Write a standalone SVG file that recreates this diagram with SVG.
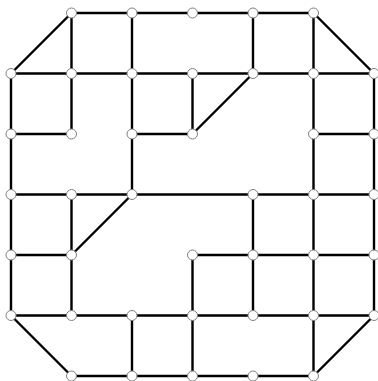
<svg xmlns="http://www.w3.org/2000/svg" width="378" height="381" viewBox="0 0 378 381">
<style>
.e{stroke:#000;stroke-width:2.4;fill:none;stroke-linecap:round}
.n{fill:#fff;stroke:#808080;stroke-width:1}
</style>
<rect width="378" height="381" fill="#fff"/>
<g id="connectors" class="e">
<path d="M71.5 13H313.5M11 73.5H374M11 134H71.5M132 134H192.5M313.5 134H374M11 194.5H374M11 255H71.5M192.5 255H374M11 315.5H374M71.5 376H313.5"/>
<path d="M71.5 13L11 73.5M313.5 13L374 73.5M253 73.5L192.5 134M132 194.5L71.5 255M11 315.5L71.5 376M374 315.5L313.5 376"/>
<path d="M71.5 13V73.5M132 13V73.5M253 13V73.5M313.5 13V73.5"/>
<path d="M11 73.5V315.5M71.5 73.5V134M132 73.5V194.5M192.5 73.5V134M313.5 73.5V194.5M374 73.5V315.5"/>
<path d="M71.5 194.5V315.5M253 194.5V315.5M313.5 194.5V376M192.5 255V376M132 315.5V376"/>
</g>
<g id="n0_1"><circle class="n" cx="71.5" cy="13" r="5"/></g>
<g id="n0_2"><circle class="n" cx="132" cy="13" r="5"/></g>
<g id="n0_3"><circle class="n" cx="192.5" cy="13" r="5"/></g>
<g id="n0_4"><circle class="n" cx="253" cy="13" r="5"/></g>
<g id="n0_5"><circle class="n" cx="313.5" cy="13" r="5"/></g>
<g id="n1_0"><circle class="n" cx="11" cy="73.5" r="5"/></g>
<g id="n1_1"><circle class="n" cx="71.5" cy="73.5" r="5"/></g>
<g id="n1_2"><circle class="n" cx="132" cy="73.5" r="5"/></g>
<g id="n1_3"><circle class="n" cx="192.5" cy="73.5" r="5"/></g>
<g id="n1_4"><circle class="n" cx="253" cy="73.5" r="5"/></g>
<g id="n1_5"><circle class="n" cx="313.5" cy="73.5" r="5"/></g>
<g id="n1_6"><circle class="n" cx="374" cy="73.5" r="5"/></g>
<g id="n2_0"><circle class="n" cx="11" cy="134" r="5"/></g>
<g id="n2_1"><circle class="n" cx="71.5" cy="134" r="5"/></g>
<g id="n2_2"><circle class="n" cx="132" cy="134" r="5"/></g>
<g id="n2_3"><circle class="n" cx="192.5" cy="134" r="5"/></g>
<g id="n2_5"><circle class="n" cx="313.5" cy="134" r="5"/></g>
<g id="n2_6"><circle class="n" cx="374" cy="134" r="5"/></g>
<g id="n3_0"><circle class="n" cx="11" cy="194.5" r="5"/></g>
<g id="n3_1"><circle class="n" cx="71.5" cy="194.5" r="5"/></g>
<g id="n3_2"><circle class="n" cx="132" cy="194.5" r="5"/></g>
<g id="n3_4"><circle class="n" cx="253" cy="194.5" r="5"/></g>
<g id="n3_5"><circle class="n" cx="313.5" cy="194.5" r="5"/></g>
<g id="n3_6"><circle class="n" cx="374" cy="194.5" r="5"/></g>
<g id="n4_0"><circle class="n" cx="11" cy="255" r="5"/></g>
<g id="n4_1"><circle class="n" cx="71.5" cy="255" r="5"/></g>
<g id="n4_3"><circle class="n" cx="192.5" cy="255" r="5"/></g>
<g id="n4_4"><circle class="n" cx="253" cy="255" r="5"/></g>
<g id="n4_5"><circle class="n" cx="313.5" cy="255" r="5"/></g>
<g id="n4_6"><circle class="n" cx="374" cy="255" r="5"/></g>
<g id="n5_0"><circle class="n" cx="11" cy="315.5" r="5"/></g>
<g id="n5_1"><circle class="n" cx="71.5" cy="315.5" r="5"/></g>
<g id="n5_2"><circle class="n" cx="132" cy="315.5" r="5"/></g>
<g id="n5_3"><circle class="n" cx="192.5" cy="315.5" r="5"/></g>
<g id="n5_4"><circle class="n" cx="253" cy="315.5" r="5"/></g>
<g id="n5_5"><circle class="n" cx="313.5" cy="315.5" r="5"/></g>
<g id="n5_6"><circle class="n" cx="374" cy="315.5" r="5"/></g>
<g id="n6_1"><circle class="n" cx="71.5" cy="376" r="5"/></g>
<g id="n6_2"><circle class="n" cx="132" cy="376" r="5"/></g>
<g id="n6_3"><circle class="n" cx="192.5" cy="376" r="5"/></g>
<g id="n6_4"><circle class="n" cx="253" cy="376" r="5"/></g>
<g id="n6_5"><circle class="n" cx="313.5" cy="376" r="5"/></g>
</svg>
